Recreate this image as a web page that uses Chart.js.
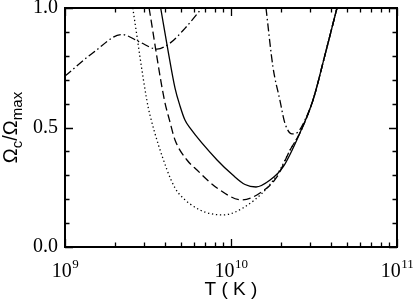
<!DOCTYPE html>
<html><head><meta charset="utf-8">
<script src="https://cdn.jsdelivr.net/npm/chart.js@4"></script>
<style>html,body{margin:0;padding:0;background:#fff}</style>
</head><body>
<canvas id="c" width="415" height="306"></canvas>
<script>
// ---- data ----
const solidT = [3.77e9, 4.17e9, 4.60e9, 4.93e9, 5.28e9, 5.66e9, 8.24e9, 1.026e10, 1.215e10, 1.415e10, 1.72e10, 2.06e10, 2.60e10, 3.12e10, 3.68e10, 4.35e10];
const solidY = [1.0, 0.824, 0.665, 0.590, 0.531, 0.498, 0.364, 0.301, 0.2615, 0.251, 0.280, 0.335, 0.477, 0.615, 0.803, 1.0];

const dashedT = [3.21e9, 3.97e9, 4.26e9, 4.60e9, 5.43e9, 6.24e9, 8.24e9, 1.165e10, 1.495e10, 1.89e10, 2.27e10, 2.60e10, 3.12e10, 3.68e10, 4.35e10];
const dashedY = [1.0, 0.615, 0.531, 0.448, 0.364, 0.322, 0.247, 0.197, 0.226, 0.293, 0.406, 0.477, 0.615, 0.803, 1.0];

const dottedT = [2.56e9, 3.11e9, 3.25e9, 4.12e9, 4.60e9, 4.93e9, 6.50e9, 8.95e9, 1.18e10, 1.65e10, 1.97e10, 2.27e10, 2.60e10, 3.12e10, 3.68e10, 4.35e10];
const dottedY = [1.0, 0.615, 0.552, 0.322, 0.247, 0.218, 0.155, 0.134, 0.163, 0.247, 0.322, 0.406, 0.477, 0.615, 0.803, 1.0];

const dashDot1T = [1.0e9, 1.495e9, 2.2e9, 2.83e9, 3.58e9, 4.29e9, 5.28e9, 6.69e9];
const dashDot1Y = [0.715, 0.816, 0.889, 0.857, 0.828, 0.853, 0.915, 1.0];

const dashDot2T = [1.625e10, 1.79e10, 1.97e10, 2.11e10, 2.33e10, 2.53e10, 2.79e10, 3.12e10, 3.68e10, 4.35e10];
const dashDot2Y = [1.0, 0.753, 0.615, 0.519, 0.473, 0.481, 0.531, 0.615, 0.803, 1.0];

const xMajorTicks = [1e9, 1e10, 1e11];
const xTickBase = ['10', '10', '10'];
const xTickExp = ['9', '10', '11'];
const xMinorTicks = [2e9,3e9,4e9,5e9,6e9,7e9,8e9,9e9,2e10,3e10,4e10,5e10,6e10,7e10,8e10,9e10];
const yMajorTicks = [0, 0.5, 1.0];
const yMinorTicks = [0.1,0.2,0.3,0.4,0.6,0.7,0.8,0.9];
const xTitle = 'T ( K )';

const SERIF = '"Liberation Serif", "Times New Roman", Times, serif';
const SANS = '"Liberation Sans", Arial, Helvetica, sans-serif';

const pts = (T, Y) => T.map((t, i) => ({x: t, y: Y[i]}));

const framePlugin = {
  id: 'frame',
  afterDraw(chart) {
    const {ctx, chartArea: a, scales: {x, y}} = chart;
    ctx.save();
    ctx.strokeStyle = '#000';
    ctx.fillStyle = '#000';
    ctx.lineWidth = 1.3;
    ctx.beginPath();
    const vt = (v, len) => {
      const px = Math.round(x.getPixelForValue(v)) + 0.5;
      ctx.moveTo(px, a.bottom); ctx.lineTo(px, a.bottom - len);
      ctx.moveTo(px, a.top); ctx.lineTo(px, a.top + len);
    };
    const ht = (v, len) => {
      const py = Math.round(y.getPixelForValue(v)) + 0.5;
      ctx.moveTo(a.left, py); ctx.lineTo(a.left + len, py);
      ctx.moveTo(a.right, py); ctx.lineTo(a.right - len, py);
    };
    xMajorTicks.forEach(v => vt(v, 8));
    xMinorTicks.forEach(v => vt(v, 4.5));
    yMajorTicks.forEach(v => ht(v, 8));
    yMinorTicks.forEach(v => ht(v, 4.5));
    ctx.stroke();
    ctx.lineWidth = 2;
    ctx.strokeRect(a.left, a.top, a.right - a.left, a.bottom - a.top);

    // x tick labels with superscripts
    ctx.textBaseline = 'alphabetic';
    ctx.textAlign = 'left';
    xMajorTicks.forEach((v, i) => {
      const px = x.getPixelForValue(v);
      ctx.font = '20px ' + SERIF;
      const w1 = ctx.measureText(xTickBase[i]).width;
      ctx.font = '13px ' + SERIF;
      const w2 = ctx.measureText(xTickExp[i]).width;
      const s = px - (w1 + w2) / 2;
      ctx.font = '20px ' + SERIF;
      ctx.fillText(xTickBase[i], s, 277);
      ctx.font = '13px ' + SERIF;
      ctx.fillText(xTickExp[i], s + w1 + 0.5, 268);
    });

    // y title: Omega_c / Omega_max
    const parts = [['Ω', 20, 0], ['c', 15, 5], ['/', 20, 0], ['Ω', 20, 0], ['max', 15, 5]];
    let total = 0;
    parts.forEach(p => { ctx.font = p[1] + 'px ' + SANS; p.push(ctx.measureText(p[0]).width); total += p[3]; });
    ctx.translate(17, (a.top + a.bottom) / 2);
    ctx.rotate(-Math.PI / 2);
    let cx = -total / 2;
    parts.forEach(p => {
      ctx.font = p[1] + 'px ' + SANS;
      ctx.fillText(p[0], cx, p[2]);
      cx += p[3];
    });
    ctx.restore();
  }
};

const common = {borderColor: '#000', borderWidth: 1.3, pointRadius: 0, fill: false, cubicInterpolationMode: 'monotone'};

new Chart(document.getElementById('c'), {
  type: 'line',
  data: {
    datasets: [
      {...common, label: 'solid', data: pts(solidT, solidY)},
      {...common, label: 'dashed', data: pts(dashedT, dashedY), borderDash: [8, 4]},
      {...common, label: 'dotted', data: pts(dottedT, dottedY), borderDash: [1.3, 2.7]},
      {...common, label: 'dashdot1', data: pts(dashDot1T, dashDot1Y), borderDash: [8, 3, 1.5, 3]},
      {...common, label: 'dashdot2', data: pts(dashDot2T, dashDot2Y), borderDash: [8, 3, 1.5, 3]}
    ]
  },
  options: {
    responsive: false,
    animation: false,
    layout: {padding: {top: 8, right: 18, left: 0, bottom: 0}},
    plugins: {legend: {display: false}, tooltip: {enabled: false}},
    scales: {
      x: {
        type: 'logarithmic', min: 1e9, max: 1e11,
        grid: {display: false, drawTicks: false},
        border: {display: false},
        ticks: {display: false},
        title: {display: true, text: xTitle, color: '#000', font: {family: SANS, size: 19}, padding: {top: 0, bottom: 5}},
        afterFit(s) { s.height = 59; s.paddingLeft = 0; s.paddingRight = 0; }
      },
      y: {
        min: 0, max: 1,
        grid: {display: false, drawTicks: false},
        border: {display: false},
        ticks: {stepSize: 0.5, color: '#000', padding: 7, font: {family: SERIF, size: 20, lineHeight: 0.7}, callback: v => Number(v).toFixed(1)},
        afterFit(s) { s.width = 65; s.paddingTop = 0; s.paddingBottom = 0; }
      }
    }
  },
  plugins: [framePlugin]
});
</script>
</body></html>
